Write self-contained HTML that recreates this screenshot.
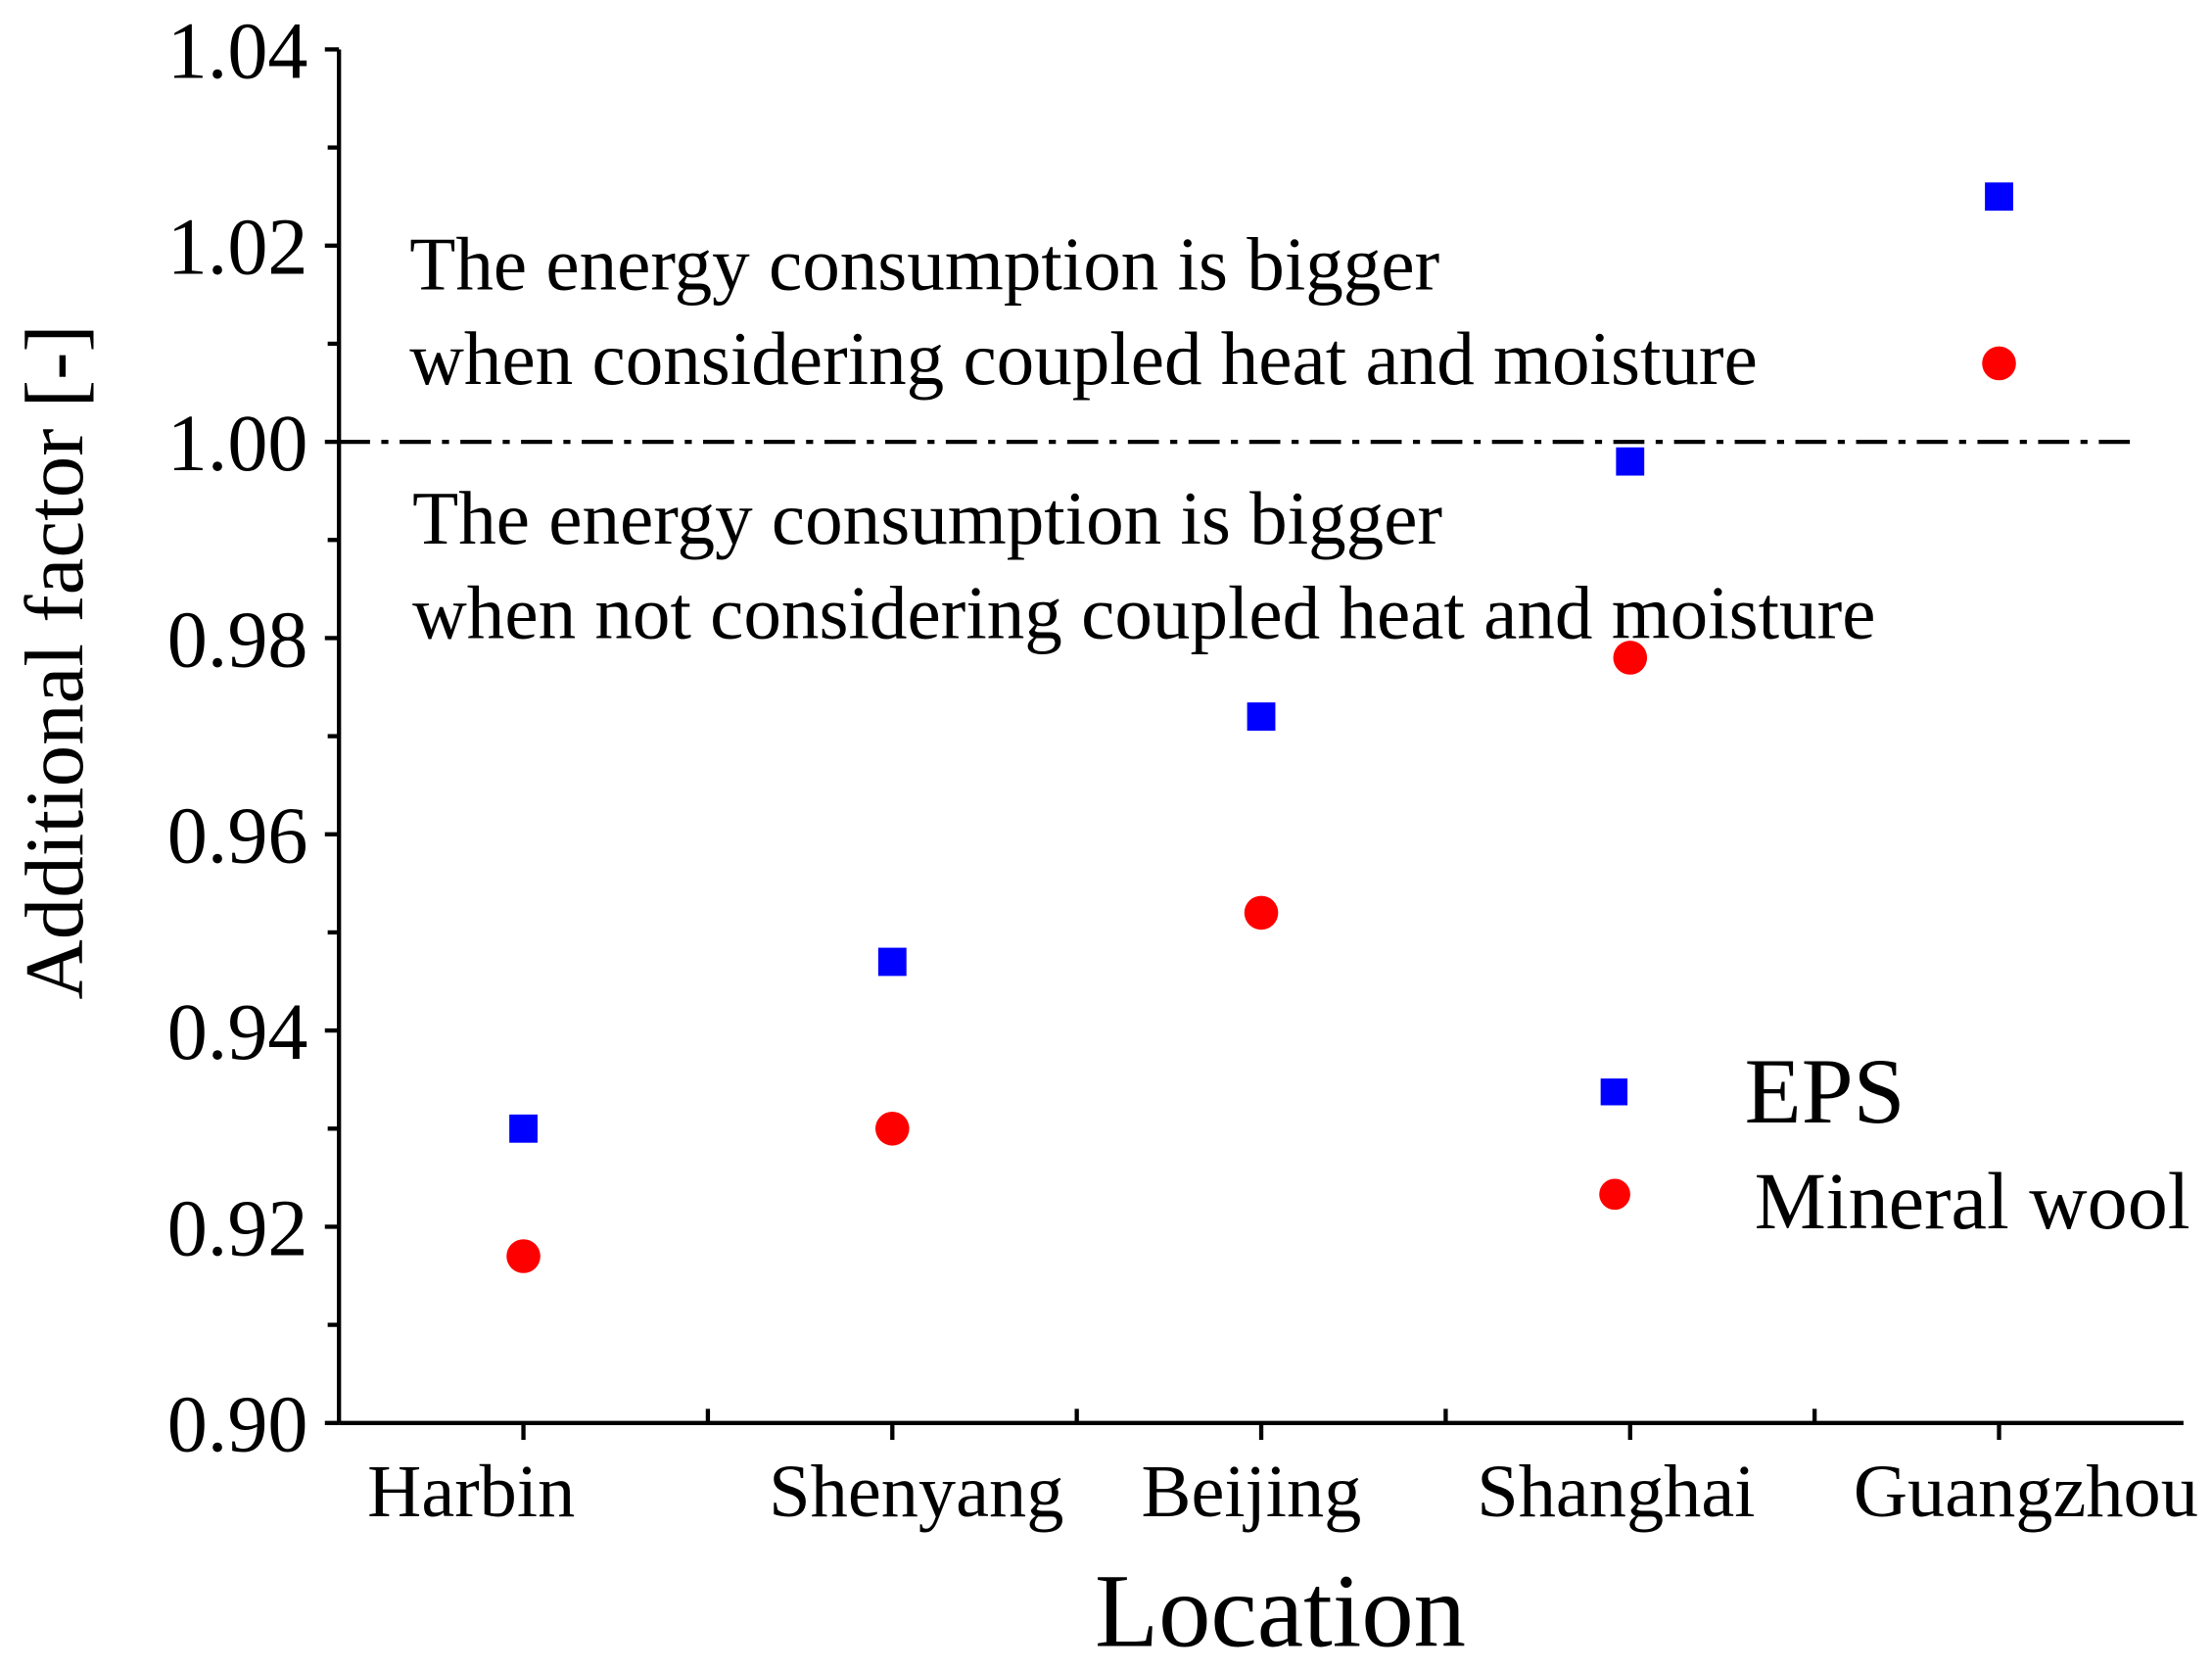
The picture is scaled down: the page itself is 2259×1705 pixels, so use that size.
<!DOCTYPE html>
<html><head><meta charset="utf-8">
<style>
html,body{margin:0;padding:0;background:#fff;}
svg{display:block;}
text{font-family:"Liberation Serif",serif;fill:#000;}
</style></head>
<body>
<svg id="chart" width="2259" height="1705" viewBox="0 0 1567 1183" xmlns="http://www.w3.org/2000/svg">
<g id="axes"></g>
<g id="marks"></g>
<text x="290" y="205" font-size="53.5">The energy consumption is bigger</text>
<text x="290" y="272" font-size="53.5">when considering coupled heat and moisture</text>
<text x="292" y="385" font-size="53.5">The energy consumption is bigger</text>
<text x="292" y="452" font-size="53.5">when not considering coupled heat and moisture</text>
<text x="907" y="1166" font-size="74" text-anchor="middle">Location</text>
<text transform="translate(58,469) rotate(-90)" font-size="59" text-anchor="middle">Additional factor [-]</text>
<g>
<rect x="1134" y="764" width="19" height="19" fill="#0000ff"/>
<text x="1236" y="795" font-size="66">EPS</text>
<circle cx="1144" cy="846" r="11" fill="#ff0000"/>
<text x="1243" y="870" font-size="57">Mineral wool</text>
</g>
</svg>
<script>
const categories = ["Harbin","Shenyang","Beijing","Shanghai","Guangzhou"];
const epsValues = [0.930,0.947,0.972,0.998,1.025];
const mineralWoolValues = [0.917,0.930,0.952,0.978,1.008];
const yTicks = ["0.90","0.92","0.94","0.96","0.98","1.00","1.02","1.04"];
const referenceValue = 1.00;

const NS="http://www.w3.org/2000/svg";
const X0=240,X1=1547,Y0=1008,Y1=35;
const labelShift=[-37,17,-7,-10,19];
const xScale=i=>X0+(i+0.5)*(X1-X0)/categories.length;
const yScale=v=>Y0-(v-0.90)/(1.04-0.90)*(Y0-Y1);
function mk(tag,attrs,parent){const e=document.createElementNS(NS,tag);for(const k in attrs)e.setAttribute(k,attrs[k]);parent.appendChild(e);return e;}
const axes=document.getElementById('axes'),marks=document.getElementById('marks');

let a=mk('line',{x1:X0,y1:Y0,x2:X1,y2:Y0,stroke:'#000','stroke-width':3},axes);


a=mk('line',{x1:X0,y1:Y0,x2:X0,y2:Y1,stroke:'#000','stroke-width':3},axes);



yTicks.forEach((t,i)=>{
  const y=yScale(parseFloat(t));
  const tk=mk('line',{x1:X0-10,y1:y,x2:X0,y2:y,stroke:'#000','stroke-width':3},axes);
  
  
  const lb=mk('text',{x:X0-22,y:y+20,'font-size':57,'text-anchor':'end'},axes);
  lb.textContent=t;
  
  
  if(i<yTicks.length-1){
    const ym=yScale(parseFloat(t)+0.01);
    const mt=mk('line',{x1:X0-8,y1:ym,x2:X0,y2:ym,stroke:'#000','stroke-width':3},axes);
    
    
  }
});
categories.forEach((c,i)=>{
  const x=xScale(i);
  const tk=mk('line',{x1:x,y1:Y0,x2:x,y2:Y0+12,stroke:'#000','stroke-width':3},axes);
  
  
  if(i<categories.length-1){
    const xm=xScale(i+0.5);
    const mt=mk('line',{x1:xm,y1:Y0,x2:xm,y2:Y0-10,stroke:'#000','stroke-width':3},axes);
    
    
  }
  const lb=mk('text',{x:x+labelShift[i],y:Y0+66,'font-size':53,'text-anchor':'middle'},axes);
  lb.textContent=c;
  
  
});

const ref=mk('line',{x1:X0,y1:yScale(referenceValue),x2:1515,y2:yScale(referenceValue),stroke:'#000','stroke-width':3,'stroke-dasharray':'22 8 5 8'},marks);



epsValues.forEach((v,i)=>{
  const r=mk('rect',{x:xScale(i)-10,y:yScale(v)-10,width:20,height:20,fill:'#0000ff'},marks);
  
  
});
mineralWoolValues.forEach((v,i)=>{
  const c=mk('circle',{cx:xScale(i),cy:yScale(v),r:12,fill:'#ff0000'},marks);
  
  
});
</script>
</body></html>
